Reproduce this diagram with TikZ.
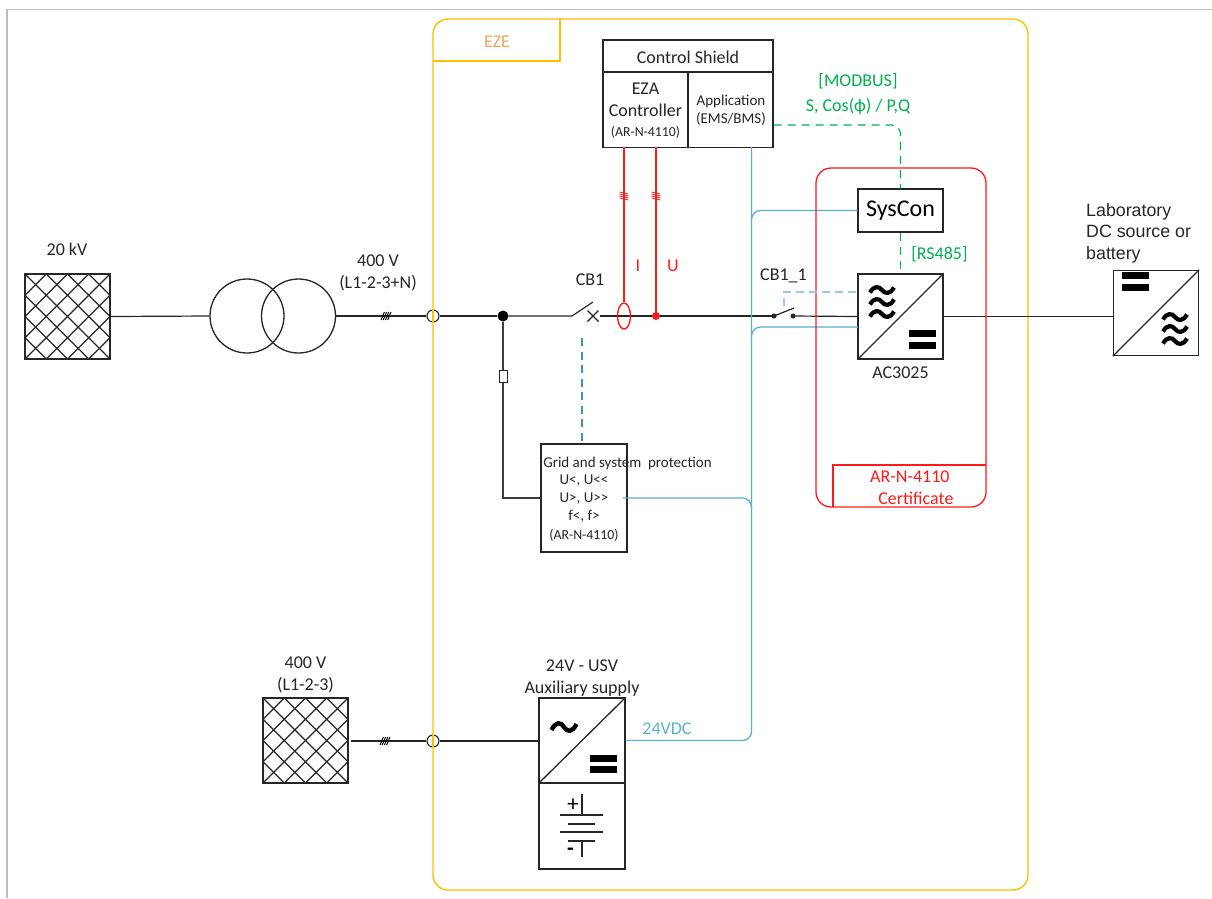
\documentclass[tikz,border=0pt]{standalone}
\usepackage{fontspec}
\setmainfont{Carlito}
\newfontfamily\arialfont{Liberation Sans}
\usetikzlibrary{shapes.geometric}
\definecolor{ezey}{HTML}{FFC000}
\definecolor{ezeo}{HTML}{F4A460}
\definecolor{busb}{HTML}{5DAFCB}
\definecolor{dashb}{HTML}{3F8FCF}
\definecolor{dashl}{HTML}{9CC7E8}
\definecolor{grn}{HTML}{00B050}
\definecolor{rd}{HTML}{FF1A1A}
\definecolor{ink}{HTML}{262626}
\definecolor{frm}{HTML}{BDBDBD}
\tikzset{
  x=1pt,y=-1pt,
  lbl/.style={inner sep=0pt,align=center,text=ink,yshift=-0.8pt,font=\fontsize{18}{22}\selectfont},
  sml/.style={inner sep=0pt,align=center,text=ink,yshift=-0.8pt,font=\fontsize{15}{17.5}\selectfont},
  tiny/.style={inner sep=0pt,text=ink,yshift=-0.5pt,font=\fontsize{13.8}{14}\selectfont},
  boxn/.style={draw=ink,line width=1.3pt,inner sep=0pt,minimum width=85pt,minimum height=85pt,rectangle},
  hatched/.style={boxn,path picture={
    \foreach \k in {-4,...,4}{
      \draw[ink,line width=1.1pt] ([xshift=\k*21.25pt]path picture bounding box.north west) -- ([xshift=\k*21.25pt]path picture bounding box.south east);
      \draw[ink,line width=1.1pt] ([xshift=\k*21.25pt]path picture bounding box.north east) -- ([xshift=\k*21.25pt]path picture bounding box.south west);
    }}},
  wire/.style={ink,line width=1.2pt},
  bus/.style={busb,line width=1.3pt,rounded corners=9pt},
  redw/.style={rd,line width=1.4pt},
  wavesym/.pic={\draw[black,line width=4.2pt] (-12,2.5) .. controls (-8,-4.5) and (-3,-4) .. (0,0) .. controls (3,4) and (8,4.5) .. (12,-2.5);},
  tildesym/.pic={\draw[black,line width=4.4pt] (-12.5,3) .. controls (-8,-6) and (-3,-5) .. (0,0) .. controls (3,5) and (8,6) .. (12.5,-3);},
  barsym/.pic={\fill[black] (-13.5,-9) rectangle (13.5,-2); \fill[black] (-13.5,2.5) rectangle (13.5,9.5);},
  slashsym/.pic={\foreach \d in {-3.3,-1.1,1.1,3.3}{\draw[black,line width=1pt] (\d-1.7,4) -- (\d+1.7,-4);}},
  ticksym/.pic={\foreach \d in {-3,-1,1,3}{\draw[rd,line width=0.8pt] (-4.5,\d-1) -- (4.5,\d+1);}},
}
\begin{document}
\begin{tikzpicture}
\useasboundingbox (0,0) rectangle (1212,898);
\fill[white] (0,0) rectangle (1212,898);
% page frame
\coordinate (fa) at (7,898); \coordinate (fb) at (7,9.5); \coordinate (fc) at (1212,9.5);
\draw[frm,line width=1.2pt] (fa) -- (fb) -- (fc);

% EZE boundary
\node[draw=ezey,line width=1.4pt,rounded corners=15pt,inner sep=0,minimum width=595pt,minimum height=871pt] (eze) at (730.5,454.5) {};
\coordinate (ta) at (560,19); \coordinate (tb) at (560,61); \coordinate (tc) at (433,61);
\draw[ezey,line width=1.4pt] (ta) -- (tb) -- (tc);
\node[lbl,text=ezeo] (ezet) at (497,41) {EZE};

% blocks
\node[hatched] (src) at (67.5,316.5) {};
\node[hatched] (src2) at (305.5,740.5) {};
\node[draw=ink,line width=1.3pt,circle,inner sep=0,minimum size=74pt] (tl) at (247,316) {};
\node[draw=ink,line width=1.3pt,circle,inner sep=0,minimum size=74pt] (tr) at (298.5,316) {};
\node[boxn,minimum width=170pt,minimum height=32pt] (shield) at (688,56) {};
\node[lbl] (shieldt) at (688,56.5) {Control Shield};
\node[boxn,minimum height=75pt] (eza) at (645.5,110) {};
\node[boxn,minimum height=75pt] (app) at (730.5,110) {};
\node[lbl] (ezat) at (645.5,99) {EZA\\Controller};
\node[tiny] (ezas) at (645.5,132) {(AR-N-4110)};
\node[sml] (appt) at (731,109.5) {Application\\(EMS/BMS)};
\node[boxn,minimum height=43pt,font=\fontsize{24}{26}\selectfont,text=black] (sys) at (900.5,210.5) {SysCon};
\node[boxn] (ac) at (900.5,316.5) {};
\node[boxn] (dc) at (1156,313) {};
\node[boxn,minimum width=86pt,minimum height=108pt] (grid) at (584,498) {};
\node[boxn,minimum width=86pt] (usv) at (582,740.5) {};
\node[boxn,minimum width=86pt,minimum height=86pt] (bat) at (582,826) {};
\draw[ink,line width=1.3pt] (ac.south west) -- (ac.north east);
\draw[ink,line width=1.3pt] (dc.south west) -- (dc.north east);
\draw[ink,line width=1.3pt] (usv.south west) -- (usv.north east);
\pic at (882,290) {wavesym}; \pic at (882,302) {wavesym}; \pic at (882,314) {wavesym};
\pic at (922.5,339) {barsym};
\pic at (1135,281) {barsym};
\pic at (1175,317) {wavesym}; \pic at (1175,329) {wavesym}; \pic at (1175,341) {wavesym};
\pic at (564,727) {tildesym};
\pic at (603.5,763.5) {barsym};

% battery symbol
\coordinate (b1a) at (582,794); \coordinate (b1b) at (582,815);
\coordinate (b2a) at (560,815); \coordinate (b2b) at (603,815);
\coordinate (b3a) at (568,824); \coordinate (b3b) at (595,824);
\coordinate (b4a) at (560,832); \coordinate (b4b) at (603,832);
\coordinate (b5a) at (568,841); \coordinate (b5b) at (595,841);
\coordinate (b6a) at (582,841); \coordinate (b6b) at (582,857);
\foreach \p in {1,...,6}{\draw[ink,line width=1.1pt] (b\p a) -- (b\p b);}
\node[inner sep=0,text=black,font=\fontsize{23}{23}\selectfont] (plus) at (573,805) {+};
\node[inner sep=0,text=black,font=\bfseries\fontsize{22}{22}\selectfont] (minus) at (570.5,852) {-};

% grid protection text
\node[sml,font=\fontsize{15}{18}\selectfont] (gridt) at (627.5,462.5) {Grid and system\ \ protection};
\node[sml,font=\fontsize{15}{18}\selectfont] (gridu) at (584,498) {U<{}, U<{}<\\U>{}, U>{}>\\f<{}, f>};
\node[tiny] (grids) at (584,534.5) {(AR-N-4110)};

% main line
\node[draw=ink,fill=white,line width=1.1pt,circle,inner sep=0,minimum size=12pt] (p1) at (433,316) {};
\draw[ezey,line width=1.4pt] (p1.north) -- (p1.south);
\node[fill=black,circle,inner sep=0,minimum size=11pt] (j1) at (503,316) {};
\coordinate (cbL) at (572,316);
\coordinate (cbT) at (593,302);
\coordinate (cbR) at (600,316);
\node[fill=ink,circle,inner sep=0,minimum size=5pt] (s1) at (774,316) {};
\node[fill=ink,circle,inner sep=0,minimum size=5pt] (s2) at (793,316) {};
\coordinate (s1t) at (794,308);
\draw[wire] (src.east) -- (tl.west);
\draw[wire] (tr.east) -- (p1.west);
\draw[wire] (p1.east) -- (j1.west);
\draw[wire] (j1.east) -- (cbL) -- (cbT);
\draw[ink,line width=1.2pt] (587.5,310.5) -- (598.5,321.5) (587.5,321.5) -- (598.5,310.5);
\draw[wire] (cbR) -- (s1.center);
\draw[wire] (s1.center) -- (s1t);
\draw[wire] (s2.center) -- (ac.west);
\draw[wire] (ac.east) -- (dc.west |- ac.east);
\pic at (386,316) {slashsym};
% protection tap
\node[draw=ink,line width=1pt,fill=white,inner sep=0,minimum width=8pt,minimum height=12pt] (fuse) at (503,376) {};
\draw[ink!90,line width=1.4pt] (j1.south) -- (fuse.north);
\draw[ink!90,line width=1.4pt] (fuse.south) |- (grid.west);

% second feeder
\node[draw=ink,fill=white,line width=1.1pt,circle,inner sep=0,minimum size=12pt] (p2) at (433,741) {};
\draw[ezey,line width=1.4pt] (p2.north) -- (p2.south);
\coordinate (f2) at (351,741);
\draw[wire] (f2) -- (p2.west);
\draw[wire] (p2.east) -- (p2.east -| usv.west);
\pic at (385,741) {slashsym};

% measurement
\node[draw=rd,line width=1.4pt,ellipse,inner sep=0,minimum width=13pt,minimum height=26pt] (ct) at (624,316) {};
\node[fill=rd,circle,inner sep=0,minimum size=8pt] (vt) at (656,316) {};
\coordinate (ctT) at (624,147);
\coordinate (vtT) at (656,147);
\draw[redw] (ctT) -- (ct.north);
\draw[redw] (vtT) -- (vt.center);
\pic at (624,196) {ticksym};
\pic at (656,196) {ticksym};
\node[lbl,text=rd] (il) at (638,265) {I};
\node[lbl,text=rd] (ul) at (673,265) {U};

% 24 V bus
\coordinate (trT) at (751.5,147);
\coordinate (t1) at (751.5,222);
\coordinate (t2) at (751.5,339);
\coordinate (t3) at (751.5,510);
\coordinate (acIn) at (858,327);
\coordinate (gO) at (623,498);
\draw[bus] (trT) |- (usv.east);
\draw[bus] (t1) |- (sys.west);
\draw[bus] (t2) |- (acIn);
\draw[bus] (gO) -| (t3);
\node[lbl,text=busb] (vdc) at (667,728) {24VDC};

% certificate box
\node[draw=rd,line width=1.3pt,rounded corners=15pt,inner sep=0,minimum width=170pt,minimum height=339pt] (cert) at (901,337.5) {};
\coordinate (ca) at (833,507); \coordinate (cb) at (833,465); \coordinate (cc) at (986,465);
\draw[rd,line width=1.3pt] (ca) -- (cb) -- (cc);
\node[lbl,text=rd,align=left,anchor=west] (certt) at (870,486.5) {AR-N-4110\\\ \ Certificate};

% dashed links
\draw[grn,line width=1.2pt,dash pattern=on 8pt off 6pt,rounded corners=9pt] (app.east |- 0,125) -| (sys.north);
\draw[grn,line width=1.2pt,dash pattern=on 8pt off 6pt] (sys.south) -- (ac.north);
\coordinate (gT) at (582,338);
\draw[dashb,line width=1.3pt,dash pattern=on 8pt off 5.5pt] (gT) -- (gT |- grid.north);
\coordinate (cD) at (784,306);
\coordinate (cE) at (784,292);
\coordinate (cF) at (858,292);
\draw[dashl,line width=1.1pt,dash pattern=on 8pt off 5pt] (cD) -- (cE) -- (cF);

% labels
\node[lbl] (l20) at (67,249) {20 kV};
\node[lbl] (l400) at (378,272.5) {400 V\\(L1-2-3+N)};
\node[lbl] (lcb) at (590,279) {CB1};
\node[lbl] (lcb1) at (783.5,275) {CB1\_1};
\node[lbl,text=grn] (lmod) at (858,80) {[MODBUS]};
\node[lbl,text=grn] (ls) at (858,106) {S, Cos(ϕ) / P,Q};
\node[lbl,text=grn] (lrs) at (939.5,253) {[RS485]};
\node[lbl] (lac) at (900.5,372) {AC3025};
\node[lbl] (lusv) at (582,677) {24V - USV\\Auxiliary supply};
\node[lbl] (l4002) at (305.5,674) {400 V\\(L1-2-3)};
\node[inner sep=0,align=left,text=ink,yshift=-1.5pt,font=\arialfont\fontsize{17.8}{21.5}\selectfont,anchor=west] (ldc) at (1086,231.5) {Laboratory\\DC source or\\battery};
\end{tikzpicture}
\end{document}
